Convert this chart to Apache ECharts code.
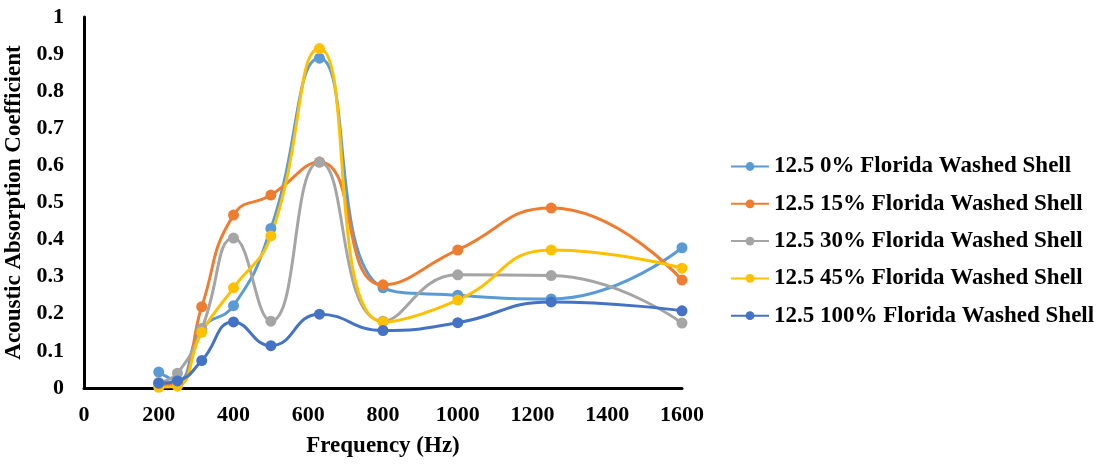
<!DOCTYPE html>
<html><head><meta charset="utf-8">
<script src="https://cdn.jsdelivr.net/npm/echarts@6/dist/echarts.min.js"></script>
<style>html,body{margin:0;padding:0;background:#fff}#c{width:1099px;height:464px}</style>
</head><body><div id="c"></div>
<script>
const freqs = [200, 250, 315, 400, 500, 630, 800, 1000, 1250, 1600];
const names = ['12.5 0% Florida Washed Shell','12.5 15% Florida Washed Shell','12.5 30% Florida Washed Shell','12.5 45% Florida Washed Shell','12.5 100% Florida Washed Shell'];
const s0 = [0.043, 0.02, 0.16, 0.222, 0.43, 0.889, 0.27, 0.25, 0.24, 0.378];
const s15 = [0.008, 0.01, 0.219, 0.466, 0.52, 0.609, 0.278, 0.372, 0.485, 0.291];
const s30 = [0.015, 0.04, 0.16, 0.404, 0.18, 0.609, 0.18, 0.305, 0.303, 0.175];
const s45 = [0.002, 0.005, 0.15, 0.27, 0.41, 0.915, 0.178, 0.237, 0.372, 0.323];
const s100 = [0.013, 0.019, 0.074, 0.178, 0.114, 0.199, 0.155, 0.176, 0.232, 0.208];
const colors = ['#5B9BD5','#ED7D31','#A5A5A5','#FFC000','#4472C4'];
const allData = [s0, s15, s30, s45, s100];
const font = 'Liberation Serif';
const chart = echarts.init(document.getElementById('c'));
chart.setOption({
  animation: false,
  color: colors,
  textStyle: {fontFamily: font},
  grid: {left: 84, right: 417, top: 17, bottom: 76, containLabel: false, outerBoundsMode: 'none'},
  xAxis: {
    type: 'value', min: 0, max: 1600, interval: 200,
    name: 'Frequency (Hz)', nameLocation: 'middle', nameGap: 47,
    nameTextStyle: {fontFamily: font, fontWeight: 'bold', fontSize: 23, color: '#000'},
    axisLine: {lineStyle: {color: '#000', width: 3}},
    axisTick: {show: false},
    splitLine: {show: false},
    axisLabel: {fontFamily: font, fontWeight: 'bold', fontSize: 22, color: '#000', margin: 16,
      formatter: v => String(v)}
  },
  yAxis: {
    type: 'value', min: 0, max: 1, interval: 0.1,
    name: 'Acoustic Absorption Coefficient', nameLocation: 'middle', nameGap: 58,
    nameTextStyle: {fontFamily: font, fontWeight: 'bold', fontSize: 23, color: '#000'},
    axisLine: {show: true, lineStyle: {color: '#000', width: 3}},
    axisTick: {show: false},
    splitLine: {show: false},
    axisLabel: {fontFamily: font, fontWeight: 'bold', fontSize: 22, color: '#000', margin: 20,
      formatter: v => String(Math.round(v * 10) / 10)}
  },
  legend: {
    orient: 'vertical', left: 725, top: 150, itemWidth: 38, itemHeight: 11, itemGap: 14.3,
    textStyle: {fontFamily: font, fontWeight: 'bold', fontSize: 23, color: '#000', lineHeight: 23}
  },
  series: names.map((n, i) => ({
    name: n, type: 'line', smooth: 0.5,
    data: freqs.map((f, j) => [f, allData[i][j]]),
    symbol: 'circle', symbolSize: 11,
    lineStyle: {width: 3, color: colors[i]},
    itemStyle: {color: colors[i]}
  }))
});
</script></body></html>
